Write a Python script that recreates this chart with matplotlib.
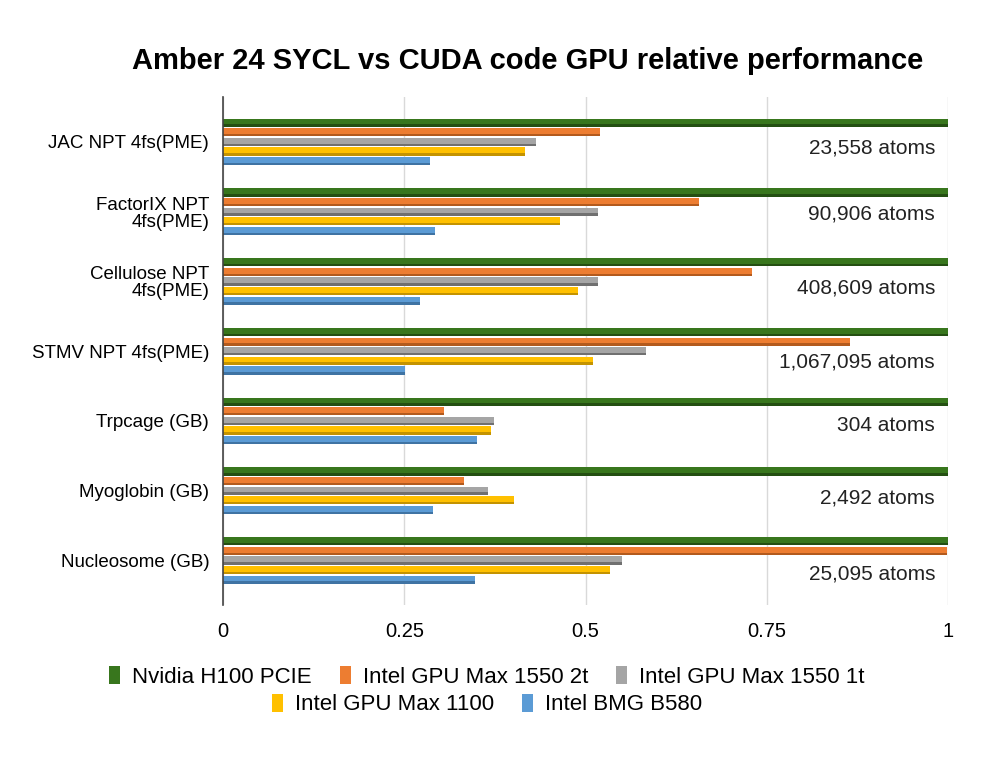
import numpy as np
import matplotlib
matplotlib.use("Agg")
import matplotlib.pyplot as plt
from matplotlib.patches import Patch

plt.rcParams['font.family'] = ['Liberation Sans', 'DejaVu Sans']

# data
categories = ["JAC NPT 4fs(PME)", "FactorIX NPT\n4fs(PME)", "Cellulose NPT\n4fs(PME)",
              "STMV NPT 4fs(PME)", "Trpcage (GB)", "Myoglobin (GB)", "Nucleosome (GB)"]
atoms = ["23,558 atoms", "90,906 atoms", "408,609 atoms", "1,067,095 atoms",
         "304 atoms", "2,492 atoms", "25,095 atoms"]
series = ["Nvidia H100 PCIE", "Intel GPU Max 1550 2t", "Intel GPU Max 1550 1t",
          "Intel GPU Max 1100", "Intel BMG B580"]
h100 = [1.0, 1.0, 1.0, 1.0, 1.0, 1.0, 1.0]
max1550_2t = [0.52, 0.657, 0.730, 0.865, 0.305, 0.333, 0.998]
max1550_1t = [0.431, 0.517, 0.517, 0.584, 0.374, 0.366, 0.550]
max1100 = [0.417, 0.465, 0.490, 0.510, 0.370, 0.401, 0.534]
bmg_b580 = [0.285, 0.293, 0.271, 0.251, 0.350, 0.290, 0.347]
values = [h100, max1550_2t, max1550_1t, max1100, bmg_b580]

colors = ["#38761d", "#ed7d31", "#a5a5a5", "#ffc000", "#5b9bd5"]
shades = ["#244f12", "#b35a1d", "#707070", "#c49300", "#3f73a3"]
label_offsets = [0.09, 0.04, 0.09, 0.16, 0.07, 0.10, 0.20]

fig = plt.figure(figsize=(10.02, 7.66), dpi=100)
ax = fig.add_axes([0.2226, 0.210, 0.7236, 0.663])

y = np.arange(len(categories))
step = 0.1375
h = 0.118
strip = 0.035
for k, (vals, c, sc) in enumerate(zip(values, colors, shades)):
    yy = y + (k - 2) * step
    ax.barh(yy, vals, height=h, color=c, zorder=3)
    # darker lower edge for the bevelled look
    ax.barh(yy + h / 2 - strip / 2, vals, height=strip, color=sc, zorder=4)

for i, txt in enumerate(atoms):
    ax.text(0.982, i + label_offsets[i], txt, ha='right', va='center',
            fontsize=15, color='#222222', zorder=5)

ax.set_xlim(0, 1)
ax.set_ylim(len(categories) - 0.36, -0.64)
ax.set_xticks([0, 0.25, 0.5, 0.75, 1])
ax.set_xticklabels(["0", "0.25", "0.5", "0.75", "1"], fontsize=14.5)
ax.set_yticks(y)
ax.set_yticklabels(categories, fontsize=13.5, linespacing=1.0)
ax.tick_params(axis='both', length=0)
ax.tick_params(axis='x', pad=12)
ax.tick_params(axis='y', pad=10)
ax.xaxis.grid(True, color='#d9d9d9', linewidth=1, zorder=0)
for s in ['top', 'right', 'bottom']:
    ax.spines[s].set_visible(False)
ax.spines['left'].set_color('#444444')
ax.spines['left'].set_linewidth(1.2)
ax.spines['left'].set_zorder(6)

fig.text(0.527, 0.921, "Amber 24 SYCL vs CUDA code GPU relative performance",
         ha='center', va='center', fontsize=21, fontweight='bold')

handles = [Patch(facecolor=c, edgecolor='none') for c in colors]
leg_kw = dict(frameon=False, fontsize=16, handlelength=0.5, handleheight=0.85,
              handletextpad=0.55, columnspacing=1.25, borderaxespad=0, borderpad=0)
leg1 = fig.legend(handles[:3], series[:3], ncol=3, loc='center',
                  bbox_to_anchor=(0.486, 0.116), **leg_kw)
leg2 = fig.legend(handles[3:], series[3:], ncol=2, loc='center',
                  bbox_to_anchor=(0.486, 0.080), **leg_kw)

fig.savefig("out.png", dpi=100, facecolor='white')
